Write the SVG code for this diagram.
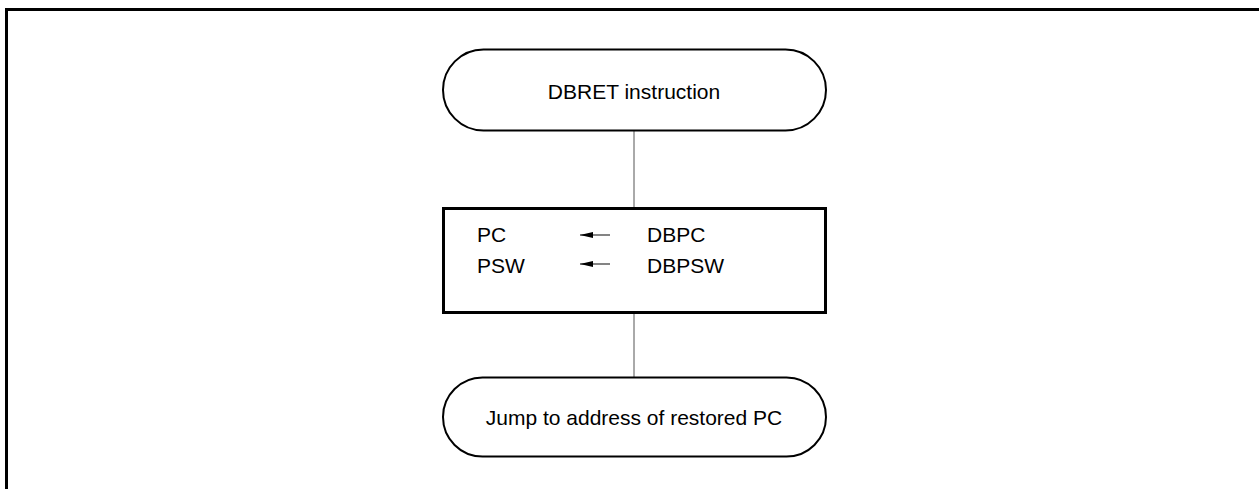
<svg xmlns="http://www.w3.org/2000/svg" width="1259" height="489" viewBox="0 0 1259 489">
<style>
text{font-family:"Liberation Sans",Arial,sans-serif;font-size:21px;fill:#000}
.term{fill:#fff;stroke:#000;stroke-width:2}
.box{fill:#fff;stroke:#000;stroke-width:3}
.conn{stroke:#555;stroke-width:1;fill:none}
.arr{stroke:#333;stroke-width:1.2;fill:none}
</style>
<defs>
<marker id="ah" markerWidth="13" markerHeight="6" refX="0" refY="3" orient="auto" markerUnits="userSpaceOnUse">
<path d="M0,3 L13,0 L13,6 Z" fill="#000"/>
</marker>
</defs>
<path d="M6.5,489 V9.5 H1259" fill="none" stroke="#000" stroke-width="3"/>
<g id="connectors">
<line class="conn" x1="634" y1="131" x2="634" y2="207"/>
<line class="conn" x1="634" y1="314" x2="634" y2="377"/>
</g>
<g id="start">
<rect class="term" x="443" y="49.5" width="383" height="81" rx="40.5"/>
<text x="634" y="99" text-anchor="middle">DBRET instruction</text>
</g>
<g id="restore">
<rect class="box" x="443.5" y="208.5" width="382" height="104"/>
<text x="477" y="242">PC</text>
<text x="477" y="273">PSW</text>
<line class="arr" x1="580" y1="235" x2="610" y2="235" marker-start="url(#ah)"/>
<line class="arr" x1="580" y1="264" x2="610" y2="264" marker-start="url(#ah)"/>
<text x="647" y="242">DBPC</text>
<text x="647" y="273">DBPSW</text>
</g>
<g id="jump">
<rect class="term" x="443" y="377.5" width="383" height="79" rx="39.5"/>
<text x="634" y="425" text-anchor="middle">Jump to address of restored PC</text>
</g>
</svg>
